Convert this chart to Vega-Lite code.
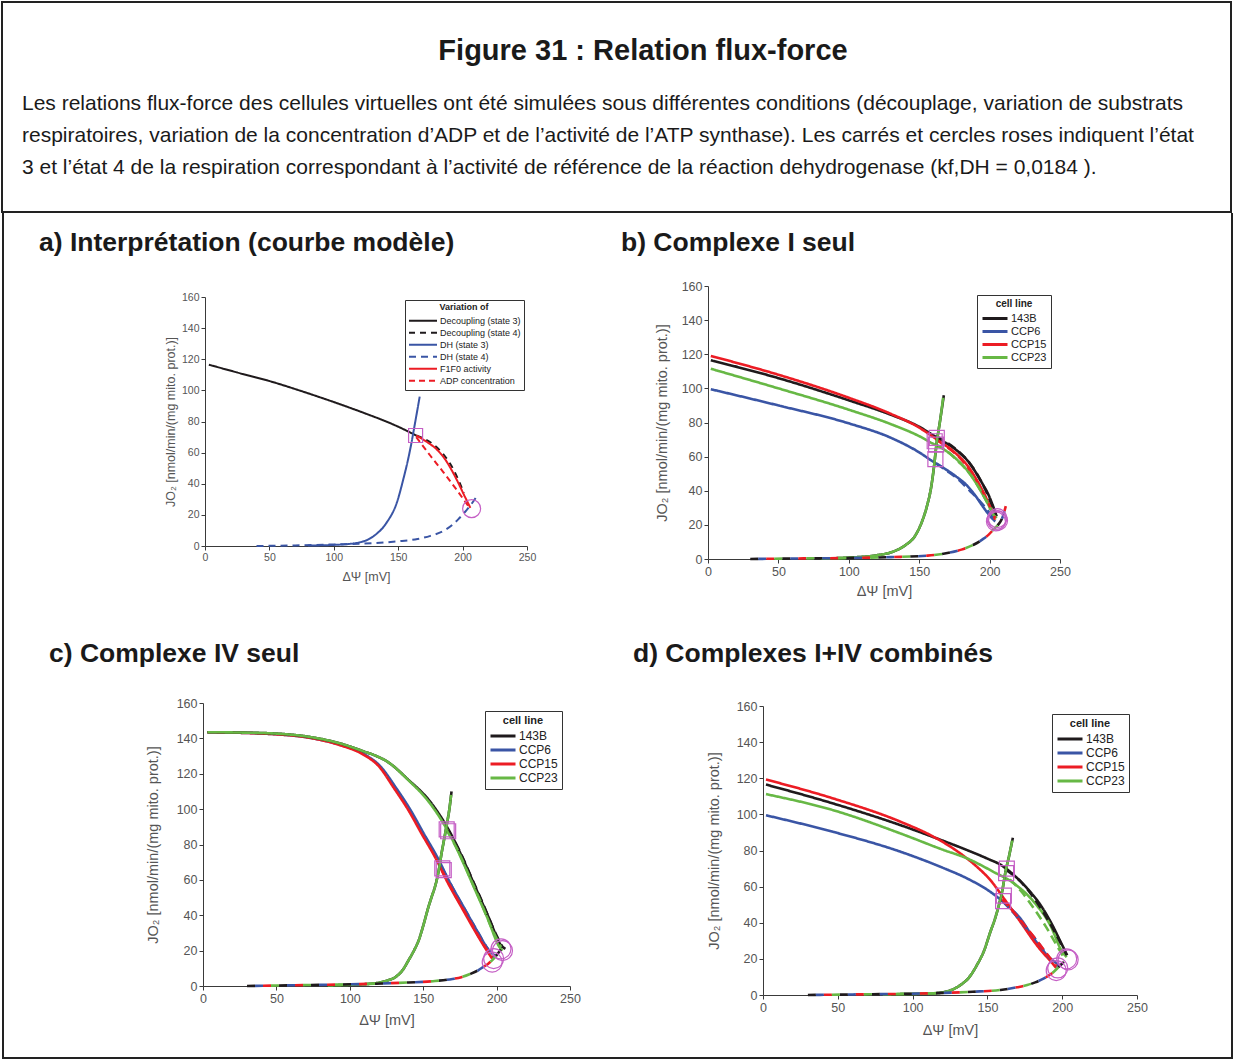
{
"$schema": "https://vega.github.io/schema/vega-lite/v6.json",
"padding": {"left": 1, "top": 1, "right": 0, "bottom": 0},
"background": "white",
"title": {"text": "Figure 31 : Relation flux-force", "anchor": "middle", "frame": "bounds", "dx": 26, "offset": -94, "baseline": "bottom", "fontSize": 29, "fontWeight": "bold", "font": "Liberation Sans", "color": "#1a1a1a"},
"spacing": 0,
"resolve": {"scale": {"color": "independent", "strokeDash": "independent"}, "legend": {"color": "independent", "strokeDash": "independent"}},
"datasets": {
"a": [
{"s":"Decoupling (state 3)","x":3,"y":116.5},{"s":"Decoupling (state 3)","x":25,"y":111.5},{"s":"Decoupling (state 3)","x":50,"y":106},{"s":"Decoupling (state 3)","x":75,"y":99.5},{"s":"Decoupling (state 3)","x":100,"y":92.5},{"s":"Decoupling (state 3)","x":125,"y":85},{"s":"Decoupling (state 3)","x":145,"y":78.5},{"s":"Decoupling (state 3)","x":158,"y":73.5},{"s":"Decoupling (state 3)","x":164,"y":71},
{"s":"DH (state 3)","x":80,"y":0.3},{"s":"DH (state 3)","x":100,"y":0.7},{"s":"DH (state 3)","x":118,"y":2},{"s":"DH (state 3)","x":131,"y":6.4},{"s":"DH (state 3)","x":141,"y":15},{"s":"DH (state 3)","x":149,"y":28},{"s":"DH (state 3)","x":154,"y":43},{"s":"DH (state 3)","x":157.5,"y":55},{"s":"DH (state 3)","x":160,"y":65},{"s":"DH (state 3)","x":163.5,"y":81},{"s":"DH (state 3)","x":166.7,"y":96},
{"s":"DH (state 4)","x":40,"y":0},{"s":"DH (state 4)","x":70,"y":0.4},{"s":"DH (state 4)","x":100,"y":1},{"s":"DH (state 4)","x":130,"y":1.8},{"s":"DH (state 4)","x":150,"y":3},{"s":"DH (state 4)","x":165,"y":4.5},{"s":"DH (state 4)","x":175,"y":6.5},{"s":"DH (state 4)","x":185,"y":9.6},{"s":"DH (state 4)","x":192,"y":13.5},{"s":"DH (state 4)","x":197,"y":17.5},{"s":"DH (state 4)","x":202,"y":22},{"s":"DH (state 4)","x":206,"y":26},{"s":"DH (state 4)","x":211,"y":32},
{"s":"Decoupling (state 4)","x":164,"y":71},{"s":"Decoupling (state 4)","x":176,"y":66},{"s":"Decoupling (state 4)","x":186,"y":58},{"s":"Decoupling (state 4)","x":193,"y":49},{"s":"Decoupling (state 4)","x":198,"y":40},{"s":"Decoupling (state 4)","x":201,"y":34},
{"s":"F1F0 activity","x":164,"y":71},{"s":"F1F0 activity","x":172,"y":67},{"s":"F1F0 activity","x":180,"y":62},{"s":"F1F0 activity","x":187,"y":55},{"s":"F1F0 activity","x":192,"y":48},{"s":"F1F0 activity","x":197,"y":40},{"s":"F1F0 activity","x":201,"y":33},{"s":"F1F0 activity","x":204,"y":28},{"s":"F1F0 activity","x":206,"y":24.5},
{"s":"ADP concentration","x":164,"y":70},{"s":"ADP concentration","x":175,"y":58},{"s":"ADP concentration","x":185,"y":47.5},{"s":"ADP concentration","x":195,"y":36.5},{"s":"ADP concentration","x":205,"y":25}
],
"ma": [{"m":"sq","x":163.5,"y":71},{"m":"ci","x":207,"y":24}],
"b": [
{"g":"b1","c":"143B","d":"s","x":2,"y":116.5},{"g":"b1","c":"143B","d":"s","x":50,"y":106},{"g":"b1","c":"143B","d":"s","x":100,"y":93},{"g":"b1","c":"143B","d":"s","x":130,"y":84.5},{"g":"b1","c":"143B","d":"s","x":150,"y":77.5},{"g":"b1","c":"143B","d":"s","x":160,"y":72.5},{"g":"b1","c":"143B","d":"s","x":167,"y":69},{"g":"b1","c":"143B","d":"s","x":173,"y":66},{"g":"b1","c":"143B","d":"s","x":179,"y":62},{"g":"b1","c":"143B","d":"s","x":185,"y":57},{"g":"b1","c":"143B","d":"s","x":190,"y":51},{"g":"b1","c":"143B","d":"s","x":195,"y":44},{"g":"b1","c":"143B","d":"s","x":199,"y":38},{"g":"b1","c":"143B","d":"s","x":202,"y":32},{"g":"b1","c":"143B","d":"s","x":205,"y":25},
{"g":"b2","c":"CCP6","d":"s","x":2,"y":99.5},{"g":"b2","c":"CCP6","d":"s","x":50,"y":90},{"g":"b2","c":"CCP6","d":"s","x":100,"y":79.5},{"g":"b2","c":"CCP6","d":"s","x":130,"y":71},{"g":"b2","c":"CCP6","d":"s","x":150,"y":62.5},{"g":"b2","c":"CCP6","d":"s","x":160,"y":57},{"g":"b2","c":"CCP6","d":"s","x":168,"y":53},{"g":"b2","c":"CCP6","d":"s","x":176,"y":48.5},{"g":"b2","c":"CCP6","d":"s","x":184,"y":43},{"g":"b2","c":"CCP6","d":"s","x":190,"y":37},{"g":"b2","c":"CCP6","d":"s","x":195,"y":31},{"g":"b2","c":"CCP6","d":"s","x":200,"y":25.5},{"g":"b2","c":"CCP6","d":"s","x":204,"y":22},
{"g":"b3","c":"CCP15","d":"s","x":2,"y":119},{"g":"b3","c":"CCP15","d":"s","x":50,"y":108},{"g":"b3","c":"CCP15","d":"s","x":100,"y":94.5},{"g":"b3","c":"CCP15","d":"s","x":130,"y":85},{"g":"b3","c":"CCP15","d":"s","x":150,"y":77},{"g":"b3","c":"CCP15","d":"s","x":160,"y":71.5},{"g":"b3","c":"CCP15","d":"s","x":167,"y":67.5},{"g":"b3","c":"CCP15","d":"s","x":173,"y":64},{"g":"b3","c":"CCP15","d":"s","x":179,"y":59.5},{"g":"b3","c":"CCP15","d":"s","x":185,"y":54},{"g":"b3","c":"CCP15","d":"s","x":190,"y":47.5},{"g":"b3","c":"CCP15","d":"s","x":195,"y":40},{"g":"b3","c":"CCP15","d":"s","x":199,"y":33},{"g":"b3","c":"CCP15","d":"s","x":202,"y":27},{"g":"b3","c":"CCP15","d":"s","x":204,"y":23},
{"g":"b4","c":"CCP23","d":"s","x":2,"y":111.5},{"g":"b4","c":"CCP23","d":"s","x":50,"y":100},{"g":"b4","c":"CCP23","d":"s","x":100,"y":87.5},{"g":"b4","c":"CCP23","d":"s","x":130,"y":79},{"g":"b4","c":"CCP23","d":"s","x":150,"y":72},{"g":"b4","c":"CCP23","d":"s","x":160,"y":67.5},{"g":"b4","c":"CCP23","d":"s","x":167,"y":64.5},{"g":"b4","c":"CCP23","d":"s","x":173,"y":61},{"g":"b4","c":"CCP23","d":"s","x":179,"y":56.5},{"g":"b4","c":"CCP23","d":"s","x":185,"y":51},{"g":"b4","c":"CCP23","d":"s","x":190,"y":45},{"g":"b4","c":"CCP23","d":"s","x":195,"y":38},{"g":"b4","c":"CCP23","d":"s","x":199,"y":32},{"g":"b4","c":"CCP23","d":"s","x":202,"y":27},{"g":"b4","c":"CCP23","d":"s","x":205,"y":24},
{"g":"b5","c":"143B","d":"d","x":162,"y":72},{"g":"b5","c":"143B","d":"d","x":170,"y":68},{"g":"b5","c":"143B","d":"d","x":178,"y":63},{"g":"b5","c":"143B","d":"d","x":186,"y":56},{"g":"b5","c":"143B","d":"d","x":193,"y":47},{"g":"b5","c":"143B","d":"d","x":199,"y":37},{"g":"b5","c":"143B","d":"d","x":204,"y":26},
{"g":"b6","c":"CCP6","d":"d","x":162,"y":56},{"g":"b6","c":"CCP6","d":"d","x":170,"y":51.5},{"g":"b6","c":"CCP6","d":"d","x":178,"y":46.5},{"g":"b6","c":"CCP6","d":"d","x":186,"y":40},{"g":"b6","c":"CCP6","d":"d","x":193,"y":34},{"g":"b6","c":"CCP6","d":"d","x":199,"y":28},{"g":"b6","c":"CCP6","d":"d","x":204,"y":22},
{"g":"b7","c":"CCP15","d":"d","x":162,"y":70},{"g":"b7","c":"CCP15","d":"d","x":170,"y":65.5},{"g":"b7","c":"CCP15","d":"d","x":178,"y":60},{"g":"b7","c":"CCP15","d":"d","x":186,"y":52},{"g":"b7","c":"CCP15","d":"d","x":193,"y":43},{"g":"b7","c":"CCP15","d":"d","x":199,"y":33},{"g":"b7","c":"CCP15","d":"d","x":204,"y":24},
{"g":"b8","c":"CCP23","d":"d","x":162,"y":67},{"g":"b8","c":"CCP23","d":"d","x":170,"y":63},{"g":"b8","c":"CCP23","d":"d","x":178,"y":57},{"g":"b8","c":"CCP23","d":"d","x":186,"y":50},{"g":"b8","c":"CCP23","d":"d","x":193,"y":41},{"g":"b8","c":"CCP23","d":"d","x":199,"y":32},{"g":"b8","c":"CCP23","d":"d","x":204,"y":24},
{"g":"b9","c":"143B","d":"s","x":80,"y":0.3},{"g":"b9","c":"143B","d":"s","x":100,"y":0.8},{"g":"b9","c":"143B","d":"s","x":120,"y":2.2},{"g":"b9","c":"143B","d":"s","x":132,"y":4.5},{"g":"b9","c":"143B","d":"s","x":140,"y":8},{"g":"b9","c":"143B","d":"s","x":147,"y":13.5},{"g":"b9","c":"143B","d":"s","x":152,"y":22},{"g":"b9","c":"143B","d":"s","x":155.5,"y":31},{"g":"b9","c":"143B","d":"s","x":158.6,"y":42.6},{"g":"b9","c":"143B","d":"s","x":160.5,"y":54},{"g":"b9","c":"143B","d":"s","x":162.1,"y":66},{"g":"b9","c":"143B","d":"s","x":165,"y":82},{"g":"b9","c":"143B","d":"s","x":167.5,"y":96},
{"g":"b10","c":"CCP23","d":"s","x":80,"y":0.3},{"g":"b10","c":"CCP23","d":"s","x":100,"y":0.8},{"g":"b10","c":"CCP23","d":"s","x":120,"y":2.2},{"g":"b10","c":"CCP23","d":"s","x":132,"y":4.5},{"g":"b10","c":"CCP23","d":"s","x":140,"y":8},{"g":"b10","c":"CCP23","d":"s","x":147,"y":13.5},{"g":"b10","c":"CCP23","d":"s","x":152,"y":22},{"g":"b10","c":"CCP23","d":"s","x":155.5,"y":31},{"g":"b10","c":"CCP23","d":"s","x":158.6,"y":42.6},{"g":"b10","c":"CCP23","d":"s","x":160.5,"y":54},{"g":"b10","c":"CCP23","d":"s","x":162.1,"y":66},{"g":"b10","c":"CCP23","d":"s","x":165,"y":82},{"g":"b10","c":"CCP23","d":"s","x":167,"y":94.5},
{"g":"b11","c":"143B","d":"k1","x":30,"y":0},{"g":"b11","c":"143B","d":"k1","x":60,"y":0.3},{"g":"b11","c":"143B","d":"k1","x":100,"y":0.6},{"g":"b11","c":"143B","d":"k1","x":130,"y":1.1},{"g":"b11","c":"143B","d":"k1","x":156,"y":2},{"g":"b11","c":"143B","d":"k1","x":170,"y":3.5},{"g":"b11","c":"143B","d":"k1","x":180,"y":5.5},{"g":"b11","c":"143B","d":"k1","x":189,"y":8.5},{"g":"b11","c":"143B","d":"k1","x":195,"y":11.5},{"g":"b11","c":"143B","d":"k1","x":199,"y":14},{"g":"b11","c":"143B","d":"k1","x":203,"y":17.5},{"g":"b11","c":"143B","d":"k1","x":206,"y":20},{"g":"b11","c":"143B","d":"k1","x":209,"y":24},{"g":"b11","c":"143B","d":"k1","x":211.5,"y":31},
{"g":"b12","c":"CCP6","d":"k2","x":30,"y":0},{"g":"b12","c":"CCP6","d":"k2","x":60,"y":0.3},{"g":"b12","c":"CCP6","d":"k2","x":100,"y":0.6},{"g":"b12","c":"CCP6","d":"k2","x":130,"y":1.1},{"g":"b12","c":"CCP6","d":"k2","x":156,"y":2},{"g":"b12","c":"CCP6","d":"k2","x":170,"y":3.5},{"g":"b12","c":"CCP6","d":"k2","x":180,"y":5.5},{"g":"b12","c":"CCP6","d":"k2","x":189,"y":8.5},{"g":"b12","c":"CCP6","d":"k2","x":195,"y":11.5},{"g":"b12","c":"CCP6","d":"k2","x":199,"y":14},{"g":"b12","c":"CCP6","d":"k2","x":203,"y":17.5},{"g":"b12","c":"CCP6","d":"k2","x":206,"y":20},{"g":"b12","c":"CCP6","d":"k2","x":209,"y":24},{"g":"b12","c":"CCP6","d":"k2","x":211.5,"y":31},
{"g":"b13","c":"CCP15","d":"k3","x":30,"y":0},{"g":"b13","c":"CCP15","d":"k3","x":60,"y":0.3},{"g":"b13","c":"CCP15","d":"k3","x":100,"y":0.6},{"g":"b13","c":"CCP15","d":"k3","x":130,"y":1.1},{"g":"b13","c":"CCP15","d":"k3","x":156,"y":2},{"g":"b13","c":"CCP15","d":"k3","x":170,"y":3.5},{"g":"b13","c":"CCP15","d":"k3","x":180,"y":5.5},{"g":"b13","c":"CCP15","d":"k3","x":189,"y":8.5},{"g":"b13","c":"CCP15","d":"k3","x":195,"y":11.5},{"g":"b13","c":"CCP15","d":"k3","x":199,"y":14},{"g":"b13","c":"CCP15","d":"k3","x":203,"y":17.5},{"g":"b13","c":"CCP15","d":"k3","x":206,"y":20},{"g":"b13","c":"CCP15","d":"k3","x":209,"y":24},{"g":"b13","c":"CCP15","d":"k3","x":211.5,"y":31},
{"g":"b14","c":"CCP23","d":"k4","x":30,"y":0},{"g":"b14","c":"CCP23","d":"k4","x":60,"y":0.3},{"g":"b14","c":"CCP23","d":"k4","x":100,"y":0.6},{"g":"b14","c":"CCP23","d":"k4","x":130,"y":1.1},{"g":"b14","c":"CCP23","d":"k4","x":156,"y":2},{"g":"b14","c":"CCP23","d":"k4","x":170,"y":3.5},{"g":"b14","c":"CCP23","d":"k4","x":180,"y":5.5},{"g":"b14","c":"CCP23","d":"k4","x":189,"y":8.5},{"g":"b14","c":"CCP23","d":"k4","x":195,"y":11.5},{"g":"b14","c":"CCP23","d":"k4","x":199,"y":14},{"g":"b14","c":"CCP23","d":"k4","x":203,"y":17.5},{"g":"b14","c":"CCP23","d":"k4","x":206,"y":20},{"g":"b14","c":"CCP23","d":"k4","x":209,"y":24},{"g":"b14","c":"CCP23","d":"k4","x":211.5,"y":31}
],
"mb": [{"m":"sq","x":162.5,"y":71},{"m":"sq","x":161,"y":69},{"m":"sq","x":162,"y":67},{"m":"sq","x":161.5,"y":58.5},{"m":"ci","x":205.5,"y":24},{"m":"ci","x":205,"y":23},{"m":"ci","x":206,"y":22.5},{"m":"ci","x":204.5,"y":22}],
"c": [
{"g":"c2","c":"CCP6","d":"s","x":3,"y":143.5},{"g":"c2","c":"CCP6","d":"s","x":50,"y":142.3},{"g":"c2","c":"CCP6","d":"s","x":75,"y":140},{"g":"c2","c":"CCP6","d":"s","x":94,"y":136.2},{"g":"c2","c":"CCP6","d":"s","x":109,"y":131.4},{"g":"c2","c":"CCP6","d":"s","x":121,"y":124},{"g":"c2","c":"CCP6","d":"s","x":131.5,"y":112},{"g":"c2","c":"CCP6","d":"s","x":141.5,"y":99.3},{"g":"c2","c":"CCP6","d":"s","x":150.5,"y":86},{"g":"c2","c":"CCP6","d":"s","x":159.5,"y":73},{"g":"c2","c":"CCP6","d":"s","x":168.5,"y":58},{"g":"c2","c":"CCP6","d":"s","x":177.5,"y":44.7},{"g":"c2","c":"CCP6","d":"s","x":186.5,"y":31.5},{"g":"c2","c":"CCP6","d":"s","x":195.5,"y":19.5},{"g":"c2","c":"CCP6","d":"s","x":200,"y":16.5},
{"g":"c3","c":"CCP15","d":"s","x":3,"y":143.5},{"g":"c3","c":"CCP15","d":"s","x":50,"y":142.3},{"g":"c3","c":"CCP15","d":"s","x":75,"y":140},{"g":"c3","c":"CCP15","d":"s","x":94,"y":136},{"g":"c3","c":"CCP15","d":"s","x":108,"y":131.4},{"g":"c3","c":"CCP15","d":"s","x":120,"y":124},{"g":"c3","c":"CCP15","d":"s","x":130,"y":112},{"g":"c3","c":"CCP15","d":"s","x":140,"y":99.3},{"g":"c3","c":"CCP15","d":"s","x":149,"y":86},{"g":"c3","c":"CCP15","d":"s","x":158,"y":73},{"g":"c3","c":"CCP15","d":"s","x":167,"y":58},{"g":"c3","c":"CCP15","d":"s","x":176,"y":44.7},{"g":"c3","c":"CCP15","d":"s","x":185,"y":31.5},{"g":"c3","c":"CCP15","d":"s","x":194,"y":19.2},{"g":"c3","c":"CCP15","d":"s","x":197,"y":15.5},
{"g":"c1","c":"143B","d":"s","x":3,"y":143.5},{"g":"c1","c":"143B","d":"s","x":25,"y":143.3},{"g":"c1","c":"143B","d":"s","x":50,"y":142.7},{"g":"c1","c":"143B","d":"s","x":75,"y":140.5},{"g":"c1","c":"143B","d":"s","x":94,"y":137},{"g":"c1","c":"143B","d":"s","x":110,"y":132.5},{"g":"c1","c":"143B","d":"s","x":117,"y":130.4},{"g":"c1","c":"143B","d":"s","x":126,"y":126.6},{"g":"c1","c":"143B","d":"s","x":140,"y":116.5},{"g":"c1","c":"143B","d":"s","x":154,"y":105},{"g":"c1","c":"143B","d":"s","x":163.5,"y":93.7},{"g":"c1","c":"143B","d":"s","x":170,"y":84.2},{"g":"c1","c":"143B","d":"s","x":177,"y":72},{"g":"c1","c":"143B","d":"s","x":186,"y":55},{"g":"c1","c":"143B","d":"s","x":195,"y":38},{"g":"c1","c":"143B","d":"s","x":203,"y":23},{"g":"c1","c":"143B","d":"s","x":206,"y":21},
{"g":"c4","c":"CCP23","d":"s","x":3,"y":143.5},{"g":"c4","c":"CCP23","d":"s","x":25,"y":143.3},{"g":"c4","c":"CCP23","d":"s","x":50,"y":142.7},{"g":"c4","c":"CCP23","d":"s","x":75,"y":140.5},{"g":"c4","c":"CCP23","d":"s","x":94,"y":137},{"g":"c4","c":"CCP23","d":"s","x":110,"y":132.5},{"g":"c4","c":"CCP23","d":"s","x":117,"y":130.4},{"g":"c4","c":"CCP23","d":"s","x":126,"y":126.6},{"g":"c4","c":"CCP23","d":"s","x":140,"y":116.3},{"g":"c4","c":"CCP23","d":"s","x":153,"y":105},{"g":"c4","c":"CCP23","d":"s","x":162.5,"y":93.7},{"g":"c4","c":"CCP23","d":"s","x":169,"y":84.2},{"g":"c4","c":"CCP23","d":"s","x":176,"y":72},{"g":"c4","c":"CCP23","d":"s","x":185,"y":55},{"g":"c4","c":"CCP23","d":"s","x":194,"y":38},{"g":"c4","c":"CCP23","d":"s","x":202,"y":22},{"g":"c4","c":"CCP23","d":"s","x":204,"y":20},
{"g":"c6","c":"CCP6","d":"d","x":164,"y":65},{"g":"c6","c":"CCP6","d":"d","x":173,"y":51},{"g":"c6","c":"CCP6","d":"d","x":182,"y":38},{"g":"c6","c":"CCP6","d":"d","x":191,"y":25},{"g":"c6","c":"CCP6","d":"d","x":198,"y":16},
{"g":"c7","c":"CCP15","d":"d","x":163,"y":65},{"g":"c7","c":"CCP15","d":"d","x":172,"y":51},{"g":"c7","c":"CCP15","d":"d","x":181,"y":38},{"g":"c7","c":"CCP15","d":"d","x":190,"y":25},{"g":"c7","c":"CCP15","d":"d","x":197,"y":16},
{"g":"c5","c":"143B","d":"d","x":167,"y":88},{"g":"c5","c":"143B","d":"d","x":175,"y":76},{"g":"c5","c":"143B","d":"d","x":183,"y":61},{"g":"c5","c":"143B","d":"d","x":191,"y":46},{"g":"c5","c":"143B","d":"d","x":198,"y":32},{"g":"c5","c":"143B","d":"d","x":204,"y":22},
{"g":"c8","c":"CCP23","d":"d","x":166,"y":88},{"g":"c8","c":"CCP23","d":"d","x":174,"y":76},{"g":"c8","c":"CCP23","d":"d","x":182,"y":61},{"g":"c8","c":"CCP23","d":"d","x":190,"y":46},{"g":"c8","c":"CCP23","d":"d","x":197,"y":32},{"g":"c8","c":"CCP23","d":"d","x":203,"y":22},
{"g":"c9","c":"143B","d":"s","x":85,"y":0.3},{"g":"c9","c":"143B","d":"s","x":100,"y":0.7},{"g":"c9","c":"143B","d":"s","x":117,"y":1.5},{"g":"c9","c":"143B","d":"s","x":125,"y":3},{"g":"c9","c":"143B","d":"s","x":131,"y":5},{"g":"c9","c":"143B","d":"s","x":136,"y":9},{"g":"c9","c":"143B","d":"s","x":140,"y":14.5},{"g":"c9","c":"143B","d":"s","x":144,"y":20.5},{"g":"c9","c":"143B","d":"s","x":147,"y":26},{"g":"c9","c":"143B","d":"s","x":150,"y":34},{"g":"c9","c":"143B","d":"s","x":153.5,"y":44.5},{"g":"c9","c":"143B","d":"s","x":156,"y":51},{"g":"c9","c":"143B","d":"s","x":158,"y":56},{"g":"c9","c":"143B","d":"s","x":160.5,"y":65},{"g":"c9","c":"143B","d":"s","x":162.5,"y":75},{"g":"c9","c":"143B","d":"s","x":164.5,"y":84},{"g":"c9","c":"143B","d":"s","x":166,"y":91},{"g":"c9","c":"143B","d":"s","x":168,"y":101},{"g":"c9","c":"143B","d":"s","x":169.3,"y":110},
{"g":"c10","c":"CCP23","d":"s","x":85,"y":0.3},{"g":"c10","c":"CCP23","d":"s","x":100,"y":0.7},{"g":"c10","c":"CCP23","d":"s","x":117,"y":1.5},{"g":"c10","c":"CCP23","d":"s","x":125,"y":3},{"g":"c10","c":"CCP23","d":"s","x":131,"y":5},{"g":"c10","c":"CCP23","d":"s","x":136,"y":9},{"g":"c10","c":"CCP23","d":"s","x":140,"y":14.5},{"g":"c10","c":"CCP23","d":"s","x":144,"y":20.5},{"g":"c10","c":"CCP23","d":"s","x":147,"y":26},{"g":"c10","c":"CCP23","d":"s","x":150,"y":34},{"g":"c10","c":"CCP23","d":"s","x":153.5,"y":44.5},{"g":"c10","c":"CCP23","d":"s","x":156,"y":51},{"g":"c10","c":"CCP23","d":"s","x":158,"y":56},{"g":"c10","c":"CCP23","d":"s","x":160.5,"y":65},{"g":"c10","c":"CCP23","d":"s","x":162.5,"y":75},{"g":"c10","c":"CCP23","d":"s","x":164.5,"y":84},{"g":"c10","c":"CCP23","d":"s","x":166,"y":91},{"g":"c10","c":"CCP23","d":"s","x":168,"y":101},{"g":"c10","c":"CCP23","d":"s","x":169,"y":108},
{"g":"c11","c":"143B","d":"k1","x":30,"y":0},{"g":"c11","c":"143B","d":"k1","x":60,"y":0.4},{"g":"c11","c":"143B","d":"k1","x":90,"y":0.8},{"g":"c11","c":"143B","d":"k1","x":117,"y":1.3},{"g":"c11","c":"143B","d":"k1","x":140,"y":2},{"g":"c11","c":"143B","d":"k1","x":158,"y":2.8},{"g":"c11","c":"143B","d":"k1","x":170,"y":4},{"g":"c11","c":"143B","d":"k1","x":176,"y":5},{"g":"c11","c":"143B","d":"k1","x":182,"y":6.8},{"g":"c11","c":"143B","d":"k1","x":187.5,"y":8.9},{"g":"c11","c":"143B","d":"k1","x":191,"y":10.8},{"g":"c11","c":"143B","d":"k1","x":194.3,"y":12.6},{"g":"c11","c":"143B","d":"k1","x":198,"y":15.5},{"g":"c11","c":"143B","d":"k1","x":201,"y":18.5},{"g":"c11","c":"143B","d":"k1","x":204,"y":22},
{"g":"c12","c":"CCP6","d":"k2","x":30,"y":0},{"g":"c12","c":"CCP6","d":"k2","x":60,"y":0.4},{"g":"c12","c":"CCP6","d":"k2","x":90,"y":0.8},{"g":"c12","c":"CCP6","d":"k2","x":117,"y":1.3},{"g":"c12","c":"CCP6","d":"k2","x":140,"y":2},{"g":"c12","c":"CCP6","d":"k2","x":158,"y":2.8},{"g":"c12","c":"CCP6","d":"k2","x":170,"y":4},{"g":"c12","c":"CCP6","d":"k2","x":176,"y":5},{"g":"c12","c":"CCP6","d":"k2","x":182,"y":6.8},{"g":"c12","c":"CCP6","d":"k2","x":187.5,"y":8.9},{"g":"c12","c":"CCP6","d":"k2","x":191,"y":10.8},{"g":"c12","c":"CCP6","d":"k2","x":194.3,"y":12.6},{"g":"c12","c":"CCP6","d":"k2","x":198,"y":15.5},
{"g":"c13","c":"CCP15","d":"k3","x":30,"y":0},{"g":"c13","c":"CCP15","d":"k3","x":60,"y":0.4},{"g":"c13","c":"CCP15","d":"k3","x":90,"y":0.8},{"g":"c13","c":"CCP15","d":"k3","x":117,"y":1.3},{"g":"c13","c":"CCP15","d":"k3","x":140,"y":2},{"g":"c13","c":"CCP15","d":"k3","x":158,"y":2.8},{"g":"c13","c":"CCP15","d":"k3","x":170,"y":4},{"g":"c13","c":"CCP15","d":"k3","x":176,"y":5},{"g":"c13","c":"CCP15","d":"k3","x":182,"y":6.8},{"g":"c13","c":"CCP15","d":"k3","x":187.5,"y":8.9},{"g":"c13","c":"CCP15","d":"k3","x":191,"y":10.8},{"g":"c13","c":"CCP15","d":"k3","x":194.3,"y":12.6},{"g":"c13","c":"CCP15","d":"k3","x":198,"y":15.5},
{"g":"c14","c":"CCP23","d":"k4","x":30,"y":0},{"g":"c14","c":"CCP23","d":"k4","x":60,"y":0.4},{"g":"c14","c":"CCP23","d":"k4","x":90,"y":0.8},{"g":"c14","c":"CCP23","d":"k4","x":117,"y":1.3},{"g":"c14","c":"CCP23","d":"k4","x":140,"y":2},{"g":"c14","c":"CCP23","d":"k4","x":158,"y":2.8},{"g":"c14","c":"CCP23","d":"k4","x":170,"y":4},{"g":"c14","c":"CCP23","d":"k4","x":176,"y":5},{"g":"c14","c":"CCP23","d":"k4","x":182,"y":6.8},{"g":"c14","c":"CCP23","d":"k4","x":187.5,"y":8.9},{"g":"c14","c":"CCP23","d":"k4","x":191,"y":10.8},{"g":"c14","c":"CCP23","d":"k4","x":194.3,"y":12.6},{"g":"c14","c":"CCP23","d":"k4","x":198,"y":15.5},{"g":"c14","c":"CCP23","d":"k4","x":201,"y":18.5},{"g":"c14","c":"CCP23","d":"k4","x":204,"y":22}
],
"mc": [{"m":"sq","x":166,"y":88.5},{"m":"sq","x":167,"y":87.5},{"m":"sq","x":163,"y":66.5},{"m":"sq","x":164,"y":65.5},{"m":"ci","x":198,"y":15.5},{"m":"ci","x":197,"y":13.5},{"m":"ci","x":203,"y":21},{"m":"ci","x":204,"y":20}],
"d": [
{"g":"d1","c":"143B","d":"s","x":2,"y":116.5},{"g":"d1","c":"143B","d":"s","x":47,"y":106},{"g":"d1","c":"143B","d":"s","x":92,"y":94},{"g":"d1","c":"143B","d":"s","x":120,"y":85.5},{"g":"d1","c":"143B","d":"s","x":136.5,"y":80.2},{"g":"d1","c":"143B","d":"s","x":150,"y":75.5},{"g":"d1","c":"143B","d":"s","x":159,"y":72},{"g":"d1","c":"143B","d":"s","x":167.7,"y":66.4},{"g":"d1","c":"143B","d":"s","x":176.6,"y":59},{"g":"d1","c":"143B","d":"s","x":185.5,"y":49.8},{"g":"d1","c":"143B","d":"s","x":192.2,"y":40.6},{"g":"d1","c":"143B","d":"s","x":198.9,"y":29.5},{"g":"d1","c":"143B","d":"s","x":203.3,"y":22},
{"g":"d2","c":"CCP6","d":"s","x":2,"y":99.5},{"g":"d2","c":"CCP6","d":"s","x":47,"y":90.3},{"g":"d2","c":"CCP6","d":"s","x":92,"y":79.3},{"g":"d2","c":"CCP6","d":"s","x":120,"y":70.5},{"g":"d2","c":"CCP6","d":"s","x":136.5,"y":64.5},{"g":"d2","c":"CCP6","d":"s","x":152,"y":57.1},{"g":"d2","c":"CCP6","d":"s","x":163,"y":49.8},{"g":"d2","c":"CCP6","d":"s","x":172,"y":42.4},{"g":"d2","c":"CCP6","d":"s","x":181,"y":31.3},{"g":"d2","c":"CCP6","d":"s","x":192,"y":20.3},{"g":"d2","c":"CCP6","d":"s","x":198,"y":16.6},
{"g":"d3","c":"CCP15","d":"s","x":2,"y":119.3},{"g":"d3","c":"CCP15","d":"s","x":47,"y":108.8},{"g":"d3","c":"CCP15","d":"s","x":92,"y":95.9},{"g":"d3","c":"CCP15","d":"s","x":114,"y":87.6},{"g":"d3","c":"CCP15","d":"s","x":132,"y":78.3},{"g":"d3","c":"CCP15","d":"s","x":143,"y":71},{"g":"d3","c":"CCP15","d":"s","x":152,"y":63.6},{"g":"d3","c":"CCP15","d":"s","x":161,"y":53.5},{"g":"d3","c":"CCP15","d":"s","x":172,"y":40.6},{"g":"d3","c":"CCP15","d":"s","x":183,"y":27.6},{"g":"d3","c":"CCP15","d":"s","x":194.4,"y":16.6},{"g":"d3","c":"CCP15","d":"s","x":196,"y":15},
{"g":"d4","c":"CCP23","d":"s","x":2,"y":111.2},{"g":"d4","c":"CCP23","d":"s","x":47,"y":102.3},{"g":"d4","c":"CCP23","d":"s","x":92,"y":89.4},{"g":"d4","c":"CCP23","d":"s","x":120,"y":80.5},{"g":"d4","c":"CCP23","d":"s","x":136.5,"y":75.6},{"g":"d4","c":"CCP23","d":"s","x":154,"y":68.2},{"g":"d4","c":"CCP23","d":"s","x":167.7,"y":61.8},{"g":"d4","c":"CCP23","d":"s","x":181,"y":51.6},{"g":"d4","c":"CCP23","d":"s","x":192,"y":38.7},{"g":"d4","c":"CCP23","d":"s","x":200,"y":24},{"g":"d4","c":"CCP23","d":"s","x":203,"y":21},
{"g":"d5","c":"143B","d":"d","x":163,"y":69},{"g":"d5","c":"143B","d":"d","x":172,"y":63},{"g":"d5","c":"143B","d":"d","x":180,"y":55},{"g":"d5","c":"143B","d":"d","x":188,"y":45},{"g":"d5","c":"143B","d":"d","x":195,"y":35},{"g":"d5","c":"143B","d":"d","x":200,"y":27},{"g":"d5","c":"143B","d":"d","x":203,"y":22},
{"g":"d6","c":"CCP6","d":"d","x":160,"y":52},{"g":"d6","c":"CCP6","d":"d","x":168,"y":45},{"g":"d6","c":"CCP6","d":"d","x":176,"y":37},{"g":"d6","c":"CCP6","d":"d","x":184,"y":29},{"g":"d6","c":"CCP6","d":"d","x":191,"y":21},{"g":"d6","c":"CCP6","d":"d","x":197,"y":16},
{"g":"d7","c":"CCP15","d":"d","x":160,"y":53},{"g":"d7","c":"CCP15","d":"d","x":168,"y":45.5},{"g":"d7","c":"CCP15","d":"d","x":176,"y":37.5},{"g":"d7","c":"CCP15","d":"d","x":184,"y":29},{"g":"d7","c":"CCP15","d":"d","x":191,"y":21.5},{"g":"d7","c":"CCP15","d":"d","x":196,"y":16},
{"g":"d8","c":"CCP23","d":"d","x":165,"y":64},{"g":"d8","c":"CCP23","d":"d","x":173,"y":57},{"g":"d8","c":"CCP23","d":"d","x":181,"y":48},{"g":"d8","c":"CCP23","d":"d","x":189,"y":38},{"g":"d8","c":"CCP23","d":"d","x":196,"y":28},{"g":"d8","c":"CCP23","d":"d","x":201,"y":21},
{"g":"d9","c":"143B","d":"s","x":80,"y":0.3},{"g":"d9","c":"143B","d":"s","x":100,"y":0.6},{"g":"d9","c":"143B","d":"s","x":114,"y":0.9},{"g":"d9","c":"143B","d":"s","x":125,"y":2.5},{"g":"d9","c":"143B","d":"s","x":132,"y":5.5},{"g":"d9","c":"143B","d":"s","x":138,"y":10},{"g":"d9","c":"143B","d":"s","x":143,"y":16.6},{"g":"d9","c":"143B","d":"s","x":148,"y":25},{"g":"d9","c":"143B","d":"s","x":152,"y":35},{"g":"d9","c":"143B","d":"s","x":155,"y":42},{"g":"d9","c":"143B","d":"s","x":157.7,"y":49.8},{"g":"d9","c":"143B","d":"s","x":160,"y":58},{"g":"d9","c":"143B","d":"s","x":162.1,"y":68.2},{"g":"d9","c":"143B","d":"s","x":164.5,"y":77},{"g":"d9","c":"143B","d":"s","x":167,"y":87},
{"g":"d10","c":"CCP23","d":"s","x":80,"y":0.3},{"g":"d10","c":"CCP23","d":"s","x":100,"y":0.6},{"g":"d10","c":"CCP23","d":"s","x":114,"y":0.9},{"g":"d10","c":"CCP23","d":"s","x":125,"y":2.5},{"g":"d10","c":"CCP23","d":"s","x":132,"y":5.5},{"g":"d10","c":"CCP23","d":"s","x":138,"y":10},{"g":"d10","c":"CCP23","d":"s","x":143,"y":16.6},{"g":"d10","c":"CCP23","d":"s","x":148,"y":25},{"g":"d10","c":"CCP23","d":"s","x":152,"y":35},{"g":"d10","c":"CCP23","d":"s","x":155,"y":42},{"g":"d10","c":"CCP23","d":"s","x":157.7,"y":49.8},{"g":"d10","c":"CCP23","d":"s","x":160,"y":58},{"g":"d10","c":"CCP23","d":"s","x":162.1,"y":68.2},{"g":"d10","c":"CCP23","d":"s","x":164.5,"y":77},{"g":"d10","c":"CCP23","d":"s","x":166.6,"y":85.7},
{"g":"d11","c":"143B","d":"k1","x":30,"y":0},{"g":"d11","c":"143B","d":"k1","x":60,"y":0.3},{"g":"d11","c":"143B","d":"k1","x":90,"y":0.6},{"g":"d11","c":"143B","d":"k1","x":114,"y":1},{"g":"d11","c":"143B","d":"k1","x":140,"y":1.8},{"g":"d11","c":"143B","d":"k1","x":158.8,"y":2.8},{"g":"d11","c":"143B","d":"k1","x":170,"y":4.3},{"g":"d11","c":"143B","d":"k1","x":176.6,"y":5.5},{"g":"d11","c":"143B","d":"k1","x":182,"y":7},{"g":"d11","c":"143B","d":"k1","x":187.8,"y":9.2},{"g":"d11","c":"143B","d":"k1","x":194.4,"y":12.9},{"g":"d11","c":"143B","d":"k1","x":198.9,"y":16.6},{"g":"d11","c":"143B","d":"k1","x":202,"y":19},{"g":"d11","c":"143B","d":"k1","x":205.6,"y":22},
{"g":"d12","c":"CCP6","d":"k2","x":30,"y":0},{"g":"d12","c":"CCP6","d":"k2","x":60,"y":0.3},{"g":"d12","c":"CCP6","d":"k2","x":90,"y":0.6},{"g":"d12","c":"CCP6","d":"k2","x":114,"y":1},{"g":"d12","c":"CCP6","d":"k2","x":140,"y":1.8},{"g":"d12","c":"CCP6","d":"k2","x":158.8,"y":2.8},{"g":"d12","c":"CCP6","d":"k2","x":170,"y":4.3},{"g":"d12","c":"CCP6","d":"k2","x":176.6,"y":5.5},{"g":"d12","c":"CCP6","d":"k2","x":182,"y":7},{"g":"d12","c":"CCP6","d":"k2","x":187.8,"y":9.2},{"g":"d12","c":"CCP6","d":"k2","x":194.4,"y":12.9},{"g":"d12","c":"CCP6","d":"k2","x":198.9,"y":16.6},
{"g":"d13","c":"CCP15","d":"k3","x":30,"y":0},{"g":"d13","c":"CCP15","d":"k3","x":60,"y":0.3},{"g":"d13","c":"CCP15","d":"k3","x":90,"y":0.6},{"g":"d13","c":"CCP15","d":"k3","x":114,"y":1},{"g":"d13","c":"CCP15","d":"k3","x":140,"y":1.8},{"g":"d13","c":"CCP15","d":"k3","x":158.8,"y":2.8},{"g":"d13","c":"CCP15","d":"k3","x":170,"y":4.3},{"g":"d13","c":"CCP15","d":"k3","x":176.6,"y":5.5},{"g":"d13","c":"CCP15","d":"k3","x":182,"y":7},{"g":"d13","c":"CCP15","d":"k3","x":187.8,"y":9.2},{"g":"d13","c":"CCP15","d":"k3","x":194.4,"y":12.9},{"g":"d13","c":"CCP15","d":"k3","x":198.9,"y":16.6},
{"g":"d14","c":"CCP23","d":"k4","x":30,"y":0},{"g":"d14","c":"CCP23","d":"k4","x":60,"y":0.3},{"g":"d14","c":"CCP23","d":"k4","x":90,"y":0.6},{"g":"d14","c":"CCP23","d":"k4","x":114,"y":1},{"g":"d14","c":"CCP23","d":"k4","x":140,"y":1.8},{"g":"d14","c":"CCP23","d":"k4","x":158.8,"y":2.8},{"g":"d14","c":"CCP23","d":"k4","x":170,"y":4.3},{"g":"d14","c":"CCP23","d":"k4","x":176.6,"y":5.5},{"g":"d14","c":"CCP23","d":"k4","x":182,"y":7},{"g":"d14","c":"CCP23","d":"k4","x":187.8,"y":9.2},{"g":"d14","c":"CCP23","d":"k4","x":194.4,"y":12.9},{"g":"d14","c":"CCP23","d":"k4","x":198.9,"y":16.6},{"g":"d14","c":"CCP23","d":"k4","x":202,"y":19},{"g":"d14","c":"CCP23","d":"k4","x":205.6,"y":22}
],
"md": [{"m":"sq","x":163,"y":70},{"m":"sq","x":162.5,"y":67.5},{"m":"sq","x":161,"y":55},{"m":"sq","x":160.5,"y":52},{"m":"ci","x":197,"y":15},{"m":"ci","x":196,"y":13.5},{"m":"ci","x":203,"y":20},{"m":"ci","x":204,"y":19.5}]
},
"vconcat": [
{"width": 1229, "height": 210, "data": {"values": []}, "mark": "point", "view": {"stroke": "#222", "strokeWidth": 2},
 "title": {"text": ["Les relations flux-force des cellules virtuelles ont été simulées sous différentes conditions (découplage, variation de substrats", "respiratoires, variation de la concentration d’ADP et de l’activité de l’ATP synthase). Les carrés et cercles roses indiquent l’état", "3 et l’état 4 de la respiration correspondant à l’activité de référence de la réaction dehydrogenase (kf,DH = 0,0184 )."], "anchor": "start", "frame": "group", "orient": "top", "dx": 20, "offset": -197, "baseline": "bottom", "fontSize": 21, "lineHeight": 32, "font": "Liberation Sans", "fontWeight": "normal", "color": "#1a1a1a"}},
{"spacing": 0,
 "resolve": {"scale": {"color": "independent", "strokeDash": "independent"}, "legend": {"color": "independent", "strokeDash": "independent"}},
 "hconcat": [
 {"width": 2, "height": 411, "data": {"values": []}, "mark": "point", "view": {"fill": "#222", "stroke": null}},
 {"width": 35, "height": 1, "data": {"values": []}, "mark": "point"},
 {"spacing": 0,
  "resolve": {"scale": {"color": "independent", "strokeDash": "independent"}, "legend": {"color": "independent", "strokeDash": "independent"}},
  "vconcat": [
  {"width": 1, "height": 16, "data": {"values": []}, "mark": "point"},
  {"width": 322, "height": 249,
  "title": {"text": "a) Interprétation (courbe modèle)", "anchor": "start", "frame": "group", "orient": "top", "dx": -166, "offset": 9, "baseline": "bottom", "fontSize": 26.5, "font": "Liberation Sans", "fontWeight": "bold", "color": "#1a1a1a"},
  "encoding": {
   "x": {"field": "x", "type": "quantitative", "scale": {"domain": [0, 250], "nice": false}, "axis": {"values": [0, 50, 100, 150, 200, 250], "title": "ΔΨ [mV]", "labelFontSize": 10.5, "titleFontSize": 12.5, "titlePadding": 8}},
   "y": {"field": "y", "type": "quantitative", "scale": {"domain": [0, 160], "nice": false}, "axis": {"values": [0, 20, 40, 60, 80, 100, 120, 140, 160], "title": "JO₂ [nmol/min/(mg mito. prot.)]", "labelFontSize": 10.5, "titleFontSize": 12.5, "titlePadding": 4}}
  },
  "layer": [
   {"data": {"name": "a"}, "mark": {"type": "line", "strokeWidth": 2, "interpolate": "monotone"},
    "encoding": {
     "color": {"field": "s", "type": "nominal", "scale": {"domain": ["Decoupling (state 3)", "Decoupling (state 4)", "DH (state 3)", "DH (state 4)", "F1F0 activity", "ADP concentration"], "range": ["#1f1a1c", "#1f1a1c", "#3a55a5", "#3a55a5", "#ec1c24", "#ec1c24"]},
      "legend": {"title": "Variation of", "orient": "top-right", "offset": 3, "padding": 3, "strokeColor": "#333", "fillColor": "#fff", "symbolType": "stroke", "symbolSize": 784, "symbolStrokeWidth": 2, "labelFontSize": 9, "titleFontSize": 9, "titleFontWeight": "bold", "titleAnchor": "middle", "rowPadding": 0, "clipHeight": 11.5, "labelOffset": 2, "titlePadding": 3, "labelColor": "#222", "titleColor": "#222"}},
     "strokeDash": {"field": "s", "type": "nominal", "scale": {"domain": ["Decoupling (state 3)", "Decoupling (state 4)", "DH (state 3)", "DH (state 4)", "F1F0 activity", "ADP concentration"], "range": [[1, 0], [6, 5], [1, 0], [7, 5], [1, 0], [6, 4]]},
      "legend": {"title": "Variation of"}}
    }},
   {"data": {"name": "ma"}, "transform": [{"filter": "datum.m == 'sq'"}], "mark": {"type": "point", "shape": "square", "filled": false, "size": 196, "color": "#c55fc5", "strokeWidth": 1.2, "opacity": 1}},
   {"data": {"name": "ma"}, "transform": [{"filter": "datum.m == 'ci'"}], "mark": {"type": "point", "shape": "circle", "filled": false, "size": 324, "color": "#c55fc5", "strokeWidth": 1.2, "opacity": 1}}
  ]}]},
 {"width": 85, "height": 1, "data": {"values": []}, "mark": "point"},
 {"spacing": 0,
  "resolve": {"scale": {"color": "independent", "strokeDash": "independent"}, "legend": {"color": "independent", "strokeDash": "independent"}},
  "vconcat": [
  {"width": 1, "height": 16, "data": {"values": []}, "mark": "point"},
  {"width": 352, "height": 273,
  "title": {"text": "b) Complexe I seul", "anchor": "start", "frame": "group", "orient": "top", "dx": -87, "offset": -3, "baseline": "bottom", "fontSize": 26.5, "font": "Liberation Sans", "fontWeight": "bold", "color": "#1a1a1a"},
  "encoding": {
   "x": {"field": "x", "type": "quantitative", "scale": {"domain": [0, 250], "nice": false}, "axis": {"values": [0, 50, 100, 150, 200, 250], "title": "ΔΨ [mV]", "labelFontSize": 12.5, "titleFontSize": 14.5, "titlePadding": 7}},
   "y": {"field": "y", "type": "quantitative", "scale": {"domain": [0, 160], "nice": false}, "axis": {"values": [0, 20, 40, 60, 80, 100, 120, 140, 160], "title": "JO₂ [nmol/min/(mg mito. prot.)]", "labelFontSize": 12.5, "titleFontSize": 14.5, "titlePadding": 12}}
  },
  "layer": [
   {"data": {"name": "b"}, "mark": {"type": "line", "strokeWidth": 2.6, "interpolate": "monotone"},
    "encoding": {
     "color": {"field": "c", "type": "nominal", "scale": {"domain": ["143B", "CCP6", "CCP15", "CCP23"], "range": ["#1f1a1c", "#3a55a5", "#ec1c24", "#67b845"]},
      "legend": {"title": "cell line", "orient": "top-right", "offset": 9, "padding": 4, "strokeColor": "#333", "fillColor": "#fff", "symbolType": "stroke", "symbolSize": 625, "symbolStrokeWidth": 3, "labelFontSize": 11, "titleFontSize": 10, "titleFontWeight": "bold", "titleAnchor": "middle", "rowPadding": 0, "clipHeight": 13, "labelOffset": 2, "titlePadding": 3, "labelColor": "#222", "titleColor": "#222"}},
     "strokeDash": {"field": "d", "type": "nominal", "scale": {"domain": ["s", "d", "k1", "k2", "k3", "k4"], "range": [[1, 0], [9, 5], [8, 24], [0, 8, 8, 16], [0, 16, 8, 8], [0, 24, 8, 0]]}, "legend": null},
     "detail": {"field": "g", "type": "nominal"}
    }},
   {"data": {"name": "mb"}, "transform": [{"filter": "datum.m == 'sq'"}], "mark": {"type": "point", "shape": "square", "filled": false, "size": 225, "color": "#c55fc5", "strokeWidth": 1.2, "opacity": 1}},
   {"data": {"name": "mb"}, "transform": [{"filter": "datum.m == 'ci'"}], "mark": {"type": "point", "shape": "circle", "filled": false, "size": 361, "color": "#c55fc5", "strokeWidth": 1.2, "opacity": 1}}
  ]}]},
 {"width": 160, "height": 1, "data": {"values": []}, "mark": "point"},
 {"width": 2, "height": 411, "data": {"values": []}, "mark": "point", "view": {"fill": "#222", "stroke": null}}
]},
{"spacing": 0,
 "resolve": {"scale": {"color": "independent", "strokeDash": "independent"}, "legend": {"color": "independent", "strokeDash": "independent"}},
 "hconcat": [
 {"width": 2, "height": 433, "data": {"values": []}, "mark": "point", "view": {"fill": "#222", "stroke": null}},
 {"width": 45, "height": 1, "data": {"values": []}, "mark": "point"},
 {"spacing": 0,
  "resolve": {"scale": {"color": "independent", "strokeDash": "independent"}, "legend": {"color": "independent", "strokeDash": "independent"}},
  "vconcat": [
  {"width": 1, "height": 16, "data": {"values": []}, "mark": "point"},
  {"width": 367, "height": 283,
  "title": {"text": "c) Complexe IV seul", "anchor": "start", "frame": "group", "orient": "top", "dx": -154, "offset": 3, "baseline": "bottom", "fontSize": 26.5, "font": "Liberation Sans", "fontWeight": "bold", "color": "#1a1a1a"},
  "encoding": {
   "x": {"field": "x", "type": "quantitative", "scale": {"domain": [0, 250], "nice": false}, "axis": {"values": [0, 50, 100, 150, 200, 250], "title": "ΔΨ [mV]", "labelFontSize": 12.5, "titleFontSize": 14.5, "titlePadding": 9}},
   "y": {"field": "y", "type": "quantitative", "scale": {"domain": [0, 160], "nice": false}, "axis": {"values": [0, 20, 40, 60, 80, 100, 120, 140, 160], "title": "JO₂ [nmol/min/(mg mito. prot.)]", "labelFontSize": 12.5, "titleFontSize": 14.5, "titlePadding": 16}}
  },
  "layer": [
   {"data": {"name": "c"}, "mark": {"type": "line", "strokeWidth": 2.6, "interpolate": "monotone"},
    "encoding": {
     "color": {"field": "c", "type": "nominal", "scale": {"domain": ["143B", "CCP6", "CCP15", "CCP23"], "range": ["#1f1a1c", "#3a55a5", "#ec1c24", "#67b845"]},
      "legend": {"title": "cell line", "orient": "top-right", "offset": 8, "padding": 4, "strokeColor": "#333", "fillColor": "#fff", "symbolType": "stroke", "symbolSize": 625, "symbolStrokeWidth": 3, "labelFontSize": 12, "titleFontSize": 11, "titleFontWeight": "bold", "titleAnchor": "middle", "rowPadding": 0, "clipHeight": 14, "labelOffset": 2, "titlePadding": 3, "labelColor": "#222", "titleColor": "#222"}},
     "strokeDash": {"field": "d", "type": "nominal", "scale": {"domain": ["s", "d", "k1", "k2", "k3", "k4"], "range": [[1, 0], [9, 5], [8, 24], [0, 8, 8, 16], [0, 16, 8, 8], [0, 24, 8, 0]]}, "legend": null},
     "detail": {"field": "g", "type": "nominal"}
    }},
   {"data": {"name": "mc"}, "transform": [{"filter": "datum.m == 'sq'"}], "mark": {"type": "point", "shape": "square", "filled": false, "size": 225, "color": "#c55fc5", "strokeWidth": 1.2, "opacity": 1}},
   {"data": {"name": "mc"}, "transform": [{"filter": "datum.m == 'ci'"}], "mark": {"type": "point", "shape": "circle", "filled": false, "size": 400, "color": "#c55fc5", "strokeWidth": 1.2, "opacity": 1}}
  ]}]},
 {"width": 52, "height": 1, "data": {"values": []}, "mark": "point"},
 {"spacing": 0,
  "resolve": {"scale": {"color": "independent", "strokeDash": "independent"}, "legend": {"color": "independent", "strokeDash": "independent"}},
  "vconcat": [
  {"width": 1, "height": 16, "data": {"values": []}, "mark": "point"},
  {"width": 374, "height": 289,
  "title": {"text": "d) Complexes I+IV combinés", "anchor": "start", "frame": "group", "orient": "top", "dx": -130, "offset": 6, "baseline": "bottom", "fontSize": 26.5, "font": "Liberation Sans", "fontWeight": "bold", "color": "#1a1a1a"},
  "encoding": {
   "x": {"field": "x", "type": "quantitative", "scale": {"domain": [0, 250], "nice": false}, "axis": {"values": [0, 50, 100, 150, 200, 250], "title": "ΔΨ [mV]", "labelFontSize": 12.5, "titleFontSize": 14.5, "titlePadding": 10}},
   "y": {"field": "y", "type": "quantitative", "scale": {"domain": [0, 160], "nice": false}, "axis": {"values": [0, 20, 40, 60, 80, 100, 120, 140, 160], "title": "JO₂ [nmol/min/(mg mito. prot.)]", "labelFontSize": 12.5, "titleFontSize": 14.5, "titlePadding": 15}}
  },
  "layer": [
   {"data": {"name": "d"}, "mark": {"type": "line", "strokeWidth": 2.6, "interpolate": "monotone"},
    "encoding": {
     "color": {"field": "c", "type": "nominal", "scale": {"domain": ["143B", "CCP6", "CCP15", "CCP23"], "range": ["#1f1a1c", "#3a55a5", "#ec1c24", "#67b845"]},
      "legend": {"title": "cell line", "orient": "top-right", "offset": 8, "padding": 4, "strokeColor": "#333", "fillColor": "#fff", "symbolType": "stroke", "symbolSize": 625, "symbolStrokeWidth": 3, "labelFontSize": 12, "titleFontSize": 11, "titleFontWeight": "bold", "titleAnchor": "middle", "rowPadding": 0, "clipHeight": 14, "labelOffset": 2, "titlePadding": 3, "labelColor": "#222", "titleColor": "#222"}},
     "strokeDash": {"field": "d", "type": "nominal", "scale": {"domain": ["s", "d", "k1", "k2", "k3", "k4"], "range": [[1, 0], [9, 5], [8, 24], [0, 8, 8, 16], [0, 16, 8, 8], [0, 24, 8, 0]]}, "legend": null},
     "detail": {"field": "g", "type": "nominal"}
    }},
   {"data": {"name": "md"}, "transform": [{"filter": "datum.m == 'sq'"}], "mark": {"type": "point", "shape": "square", "filled": false, "size": 225, "color": "#c55fc5", "strokeWidth": 1.2, "opacity": 1}},
   {"data": {"name": "md"}, "transform": [{"filter": "datum.m == 'ci'"}], "mark": {"type": "point", "shape": "circle", "filled": false, "size": 400, "color": "#c55fc5", "strokeWidth": 1.2, "opacity": 1}}
  ]}]},
 {"width": 83, "height": 1, "data": {"values": []}, "mark": "point"},
 {"width": 2, "height": 433, "data": {"values": []}, "mark": "point", "view": {"fill": "#222", "stroke": null}}
]},
{"width": 1231, "height": 2, "data": {"values": []}, "mark": "point", "view": {"fill": "#222", "stroke": null}}
],
"config": {
 "view": {"stroke": null},
 "font": "Liberation Sans",
 "axis": {"labelFont": "Liberation Sans", "titleFont": "Liberation Sans", "labelColor": "#555", "titleColor": "#555", "titleFontWeight": "normal", "domainColor": "#3a3a3a", "tickColor": "#3a3a3a", "tickSize": 4, "grid": false, "labelPadding": 2, "labelFlush": false, "labelOverlap": false},
 "legend": {"labelFont": "Liberation Sans", "titleFont": "Liberation Sans"}
}
}
